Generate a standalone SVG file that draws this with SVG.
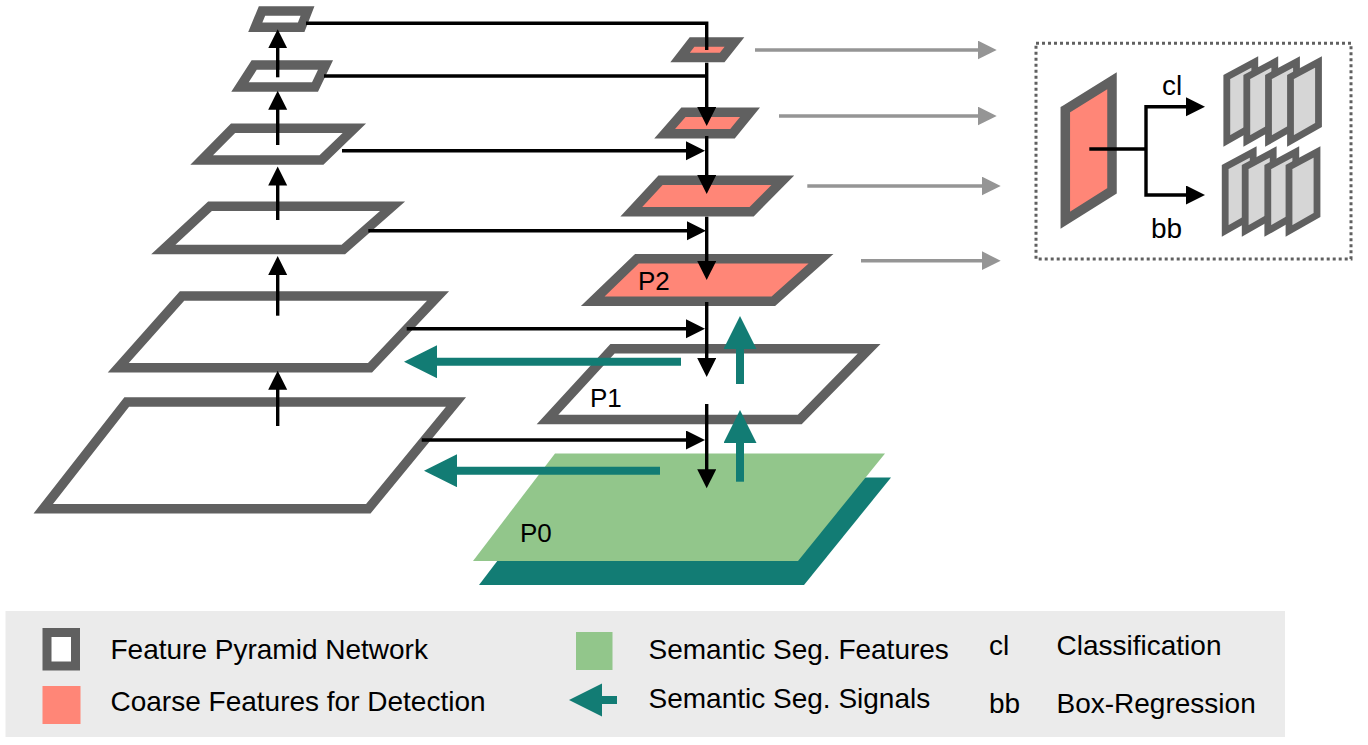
<svg xmlns="http://www.w3.org/2000/svg" width="1368" height="745" viewBox="0 0 1368 745">
<style>
.frame{stroke:#606060;stroke-width:9.5;stroke-linejoin:miter;stroke-miterlimit:10}
.fpn{fill:#ffffff}
.coarse{fill:#FF8677}
.card{fill:#D6D6D6;stroke:#606060;stroke-width:6.8;stroke-linejoin:miter;stroke-miterlimit:10}
.blk{fill:none;stroke:#000000;stroke-width:3.4;stroke-linejoin:miter}
.gry{fill:none;stroke:#959595;stroke-width:3.5}
.teal{fill:none;stroke:#127C74;stroke-width:8}
.lbl{font-family:"Liberation Sans",Arial,Helvetica,sans-serif;fill:#000000}
.big{font-size:26px}
.leg{font-size:28px}
</style>
<defs>
<marker id="ab" markerUnits="userSpaceOnUse" markerWidth="20" markerHeight="20" viewBox="0 0 20 20" refX="2" refY="9.5" orient="auto"><path d="M0,0 L19,9.5 L0,19 z" fill="#000000"/></marker>
<marker id="ag" markerUnits="userSpaceOnUse" markerWidth="20" markerHeight="20" viewBox="0 0 20 20" refX="2" refY="9.5" orient="auto"><path d="M0,0 L19,9.5 L0,19 z" fill="#959595"/></marker>
<marker id="at" markerUnits="userSpaceOnUse" markerWidth="34" markerHeight="34" viewBox="0 0 34 34" refX="3" refY="16.5" orient="auto"><path d="M0,0 L33,16.5 L0,33 z" fill="#127C74"/></marker>
<polygon id="cardshape" class="card" points="3.5,77 31.5,62 31.5,125 3.5,141"/>
</defs>

<!-- left feature pyramid -->
<g id="L1"><polygon class="frame fpn" points="262,11 307.5,11 301.2,27.2 255.3,27.2"/></g>
<g id="L2"><polygon class="frame fpn" points="254.2,65 325.5,65 315,87 240,87"/></g>
<g id="L3"><polygon class="frame fpn" points="233,128.3 354.3,128.3 321.5,160 201.7,160"/></g>
<g id="L4"><polygon class="frame fpn" points="210,206.2 392.5,206.2 343.3,249.5 163.3,249.5"/></g>
<g id="L5"><polygon class="frame fpn" points="182,296 438,296 370,367.7 118.3,367.7"/></g>
<g id="L6"><polygon class="frame fpn" points="126.7,402 456,402 368.3,508.7 43.3,508.7"/></g>

<!-- middle column -->
<g id="P0">
<polygon fill="#127C74" points="561,477.5 891,477.5 804,585 479,585"/>
<polygon fill="#92C68B" points="555,453.5 885,453.5 798,561 473,561"/>
<text class="lbl big" x="520" y="541.5">P0</text>
</g>
<g id="P1">
<polygon class="frame fpn" points="612.5,348.7 869.2,348.7 799.7,419.5 547.5,419.5"/>
<text class="lbl big" x="590" y="406.5">P1</text>
</g>
<g id="P2">
<polygon class="frame coarse" points="637,258.7 821,258.7 773.3,301.3 592.7,301.3"/>
<text class="lbl big" x="638" y="290">P2</text>
</g>
<g id="M3"><polygon class="frame coarse" points="660.5,180.3 782.8,180.3 751.7,211.7 631.3,211.7"/></g>
<g id="M2"><polygon class="frame coarse" points="683.5,112.2 750,112.2 732.5,133.7 664.7,133.7"/></g>
<g id="M1"><polygon class="frame coarse" points="692,42 734.5,42 722.2,57.5 680,57.5"/></g>

<!-- head box -->
<g id="head">
<rect x="1036" y="43.3" width="315" height="215.7" fill="none" stroke="#606060" stroke-width="3" stroke-dasharray="3 3"/>
<polygon class="frame coarse" points="1065.3,109.7 1112,80.8 1112,190.8 1065.3,220.2"/>
<text class="lbl" font-size="28" x="1162" y="95">cl</text>
<text class="lbl" font-size="28" x="1151" y="238">bb</text>
</g>
<g id="cl-stack">
<use href="#cardshape" transform="translate(1223.3,0)"/>
<use href="#cardshape" transform="translate(1243.3,0)"/>
<use href="#cardshape" transform="translate(1265,0)"/>
<use href="#cardshape" transform="translate(1287,0)"/>
</g>
<g id="bb-stack">
<use href="#cardshape" transform="translate(1221.7,90)"/>
<use href="#cardshape" transform="translate(1241.7,90)"/>
<use href="#cardshape" transform="translate(1264.3,90)"/>
<use href="#cardshape" transform="translate(1285.5,90)"/>
</g>

<!-- connectors -->
<g id="connectors">
<!-- bottom-up pathway -->
<path class="blk" d="M277.7,426 V387.7" marker-end="url(#ab)"/>
<path class="blk" d="M277.7,315.7 V273" marker-end="url(#ab)"/>
<path class="blk" d="M277.7,220 V183.5" marker-end="url(#ab)"/>
<path class="blk" d="M277.7,145 V107.7" marker-end="url(#ab)"/>
<path class="blk" d="M277.7,77.3 V46.3" marker-end="url(#ab)"/>
<!-- lateral -->
<path class="blk" d="M306,23.3 H706.7 V50"/>
<path class="blk" d="M324,76 H706.7"/>
<path class="blk" d="M342,150.7 H688" marker-end="url(#ab)"/>
<path class="blk" d="M368.3,230.7 H689" marker-end="url(#ab)"/>
<path class="blk" d="M406.7,328.7 H688" marker-end="url(#ab)"/>
<path class="blk" d="M421.7,440 H688" marker-end="url(#ab)"/>
<!-- top-down -->
<path class="blk" d="M706.7,62.7 V109" marker-end="url(#ab)"/>
<path class="blk" d="M706.7,136 V177" marker-end="url(#ab)"/>
<path class="blk" d="M706.7,216.7 V263" marker-end="url(#ab)"/>
<path class="blk" d="M706.7,302 V360" marker-end="url(#ab)"/>
<path class="blk" d="M706.7,404 V471.3" marker-end="url(#ab)"/>
<!-- semantic signals -->
<path class="teal" d="M740,384 V346" marker-end="url(#at)"/>
<path class="teal" d="M740,481.7 V440" marker-end="url(#at)"/>
<path class="teal" d="M681,361.7 H434" marker-end="url(#at)"/>
<path class="teal" d="M660,470.7 H454" marker-end="url(#at)"/>
<!-- to head -->
<path class="gry" d="M755,50 H979.7" marker-end="url(#ag)"/>
<path class="gry" d="M779,116 H979.7" marker-end="url(#ag)"/>
<path class="gry" d="M807.3,186 H983.7" marker-end="url(#ag)"/>
<path class="gry" d="M861,260.7 H983.7" marker-end="url(#ag)"/>
<!-- head branches -->
<path class="blk" d="M1089.3,149 H1146"/>
<path class="blk" d="M1146,149 V106.7 H1188" marker-end="url(#ab)"/>
<path class="blk" d="M1146,149 V195 H1188" marker-end="url(#ab)"/>
</g>

<!-- legend -->
<g id="legend">
<rect x="5.5" y="611" width="1279.5" height="126" fill="#EBEBEB"/>
<rect x="47" y="632.5" width="28.5" height="33.5" fill="#ffffff" stroke="#606060" stroke-width="9"/>
<rect x="42.5" y="686" width="38" height="38" fill="#FF8677"/>
<rect x="576" y="632" width="36.5" height="38" fill="#92C68B"/>
<path class="teal" d="M617,700 H599" marker-end="url(#at)"/>
<text class="lbl leg" x="110.5" y="659">Feature Pyramid Network</text>
<text class="lbl leg" x="110.5" y="711">Coarse Features for Detection</text>
<text class="lbl leg" x="648.5" y="659">Semantic Seg. Features</text>
<text class="lbl leg" x="648.5" y="708">Semantic Seg. Signals</text>
<text class="lbl leg" x="989" y="655">cl</text>
<text class="lbl leg" x="1056.5" y="655">Classification</text>
<text class="lbl leg" x="989" y="712.5">bb</text>
<text class="lbl leg" x="1056.5" y="712.5">Box-Regression</text>
</g>
</svg>
